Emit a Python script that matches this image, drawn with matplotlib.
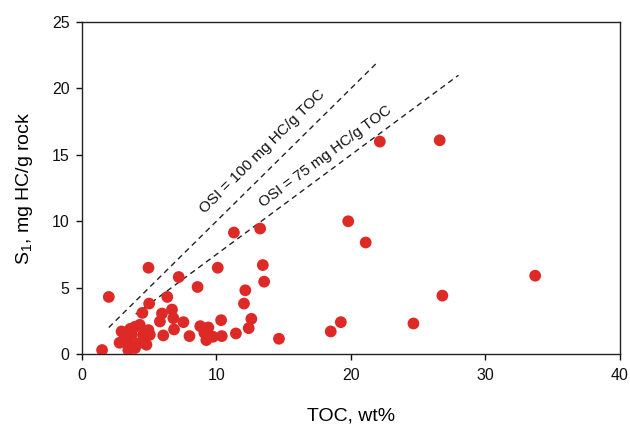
import matplotlib
matplotlib.use("Agg")
import matplotlib.pyplot as plt
import numpy as np

plt.rcParams['font.family'] = ['Liberation Sans', 'DejaVu Sans']
plt.rcParams['mathtext.fontset'] = 'custom'
plt.rcParams['mathtext.rm'] = 'Liberation Sans'
plt.rcParams['mathtext.it'] = 'Liberation Sans:italic'

toc = [1.5, 2.0, 2.8, 2.95, 3.2, 3.45, 3.45, 3.6, 3.7, 3.95, 3.95, 4.2, 4.3, 4.5,
       4.55, 4.8, 4.95, 5.05, 4.95, 5.0, 5.8, 5.95, 6.05, 6.35, 6.7, 6.8, 6.85,
       7.2, 7.55, 8.0, 8.6, 8.8, 9.1, 9.4, 9.25, 9.75, 10.1, 10.35, 10.4, 11.3,
       11.45, 12.05, 12.15, 12.4, 12.6, 13.25, 13.45, 13.55, 14.65, 18.5, 19.25,
       19.8, 21.1, 22.15, 24.65, 26.6, 26.8, 33.7]
s1 = [0.3, 4.3, 0.85, 1.7, 1.2, 0.3, 0.8, 1.9, 1.45, 2.05, 0.45, 0.8, 2.2, 3.1,
      1.45, 0.7, 1.8, 1.45, 6.5, 3.8, 2.45, 3.05, 1.4, 4.3, 3.35, 2.7, 1.85,
      5.8, 2.4, 1.35, 5.05, 2.1, 1.6, 2.0, 1.05, 1.3, 6.5, 2.55, 1.35, 9.15,
      1.55, 3.8, 4.8, 1.95, 2.65, 9.45, 6.7, 5.45, 1.15, 1.7, 2.4,
      10.0, 8.4, 16.0, 2.3, 16.1, 4.4, 5.9]

osi_values = [100, 75]
osi_toc_start = [2, 4]
osi_toc_end = [22, 28]
osi_labels = ['OSI = 100 mg HC/g TOC', 'OSI = 75 mg HC/g TOC']
osi_label_pos = [(13.4, 15.25), (18.1, 14.85)]

fig = plt.figure(figsize=(6.3, 4.25), dpi=100)
ax = fig.add_axes([0.130, 0.167, 0.854, 0.781])

for v, a, b in zip(osi_values, osi_toc_start, osi_toc_end):
    xs = np.array([a, b])
    ax.plot(xs, xs * v / 100.0, linestyle=(0, (4, 3)), color='#222222', lw=1.0, zorder=2)

ax.scatter(toc, s1, s=72, color='#dd2a27', edgecolors='none', zorder=3)

ax.set_xlim(0, 40)
ax.set_ylim(0, 25)
fig.canvas.draw()
for v, (tx, ty), lab in zip(osi_values, osi_label_pos, osi_labels):
    p1 = ax.transData.transform((0, 0))
    p2 = ax.transData.transform((10, 10 * v / 100.0))
    ang = np.degrees(np.arctan2(p2[1] - p1[1], p2[0] - p1[0]))
    ax.text(tx, ty, lab, rotation=ang, ha='center', va='center', fontsize=11,
            rotation_mode='anchor', zorder=4, color='#111111')

ax.set_xticks([0, 10, 20, 30, 40])
ax.set_yticks([0, 5, 10, 15, 20, 25])
ax.tick_params(direction='out', length=4, width=1, labelsize=11.5, colors='#111111')
ax.tick_params(axis='x', pad=6)
ax.tick_params(axis='y', pad=5)
for sp in ax.spines.values():
    sp.set_linewidth(1.0)
    sp.set_color('#222222')

ax.set_xlabel('TOC, wt%', fontsize=14, labelpad=18)
ax.set_ylabel(r'S$_\mathregular{1}$, mg HC/g rock', fontsize=14, labelpad=12)

fig.savefig('out.png', dpi=100)
